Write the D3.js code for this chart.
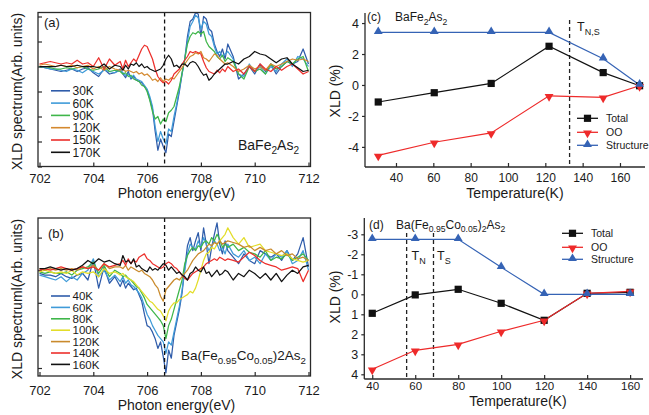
<!DOCTYPE html>
<html><head><meta charset="utf-8">
<script src="https://cdn.jsdelivr.net/npm/d3@7"></script>
<style>
body{margin:0;background:#fff}
svg{display:block}
text{font-family:"Liberation Sans",Arial,sans-serif;fill:#1a1a1a}
</style>
</head><body>
<svg id="chart" width="649" height="415"></svg>
<script>
// ---------------- DATA ----------------
const energy = [702.0,702.2,702.4,702.6,702.8,703.0,703.2,703.4,703.6,703.8,704.0,704.2,704.4,704.6,704.8,
705.0,705.1,705.2,705.3,705.4,705.5,705.6,705.7,705.8,705.9,
706.0,706.1,706.2,706.3,706.4,706.5,706.6,706.7,706.8,706.9,
707.0,707.1,707.2,707.3,707.4,707.5,707.6,707.7,707.8,707.9,
708.0,708.1,708.2,708.3,708.4,708.5,708.6,708.7,708.8,708.9,
709.0,709.2,709.4,709.6,709.8,710.0,710.2,710.4,710.6,710.8,711.0,711.2,711.4,711.6,711.8,712.0];

// panel (a) BaFe2As2
const labelsA = ["30K","60K","90K","120K","150K","170K"];
const a30 = [0.0,-0.05,-0.1,-0.15,-0.2,-0.15,-0.1,-0.2,-0.1,-0.05,-0.25,-0.4,-0.1,-0.3,-0.25,
-0.1,-0.3,-0.45,-0.2,-0.5,-0.4,-0.55,-0.6,-0.65,-0.8,
-0.95,-1.3,-1.7,-2.6,-3.35,-2.9,-3.2,-3.45,-2.7,-2.8,
-2.2,-1.6,-1.0,-0.3,0.3,1.2,1.8,1.9,2.15,2.1,
1.2,2.0,1.9,1.5,1.4,0.9,0.6,0.4,0.7,0.3,
0.9,
0.4,-0.5,-0.3,0.0,-0.3,0.1,-0.2,0.1,-0.3,0.0,0.2,0.1,0.2,0.7,0.1];
const a60 = [0.0,-0.05,-0.1,-0.1,-0.15,-0.2,-0.1,-0.15,-0.25,-0.1,-0.2,-0.3,-0.15,-0.2,-0.25,
-0.15,-0.25,-0.35,-0.3,-0.45,-0.35,-0.5,-0.55,-0.6,-0.75,
-0.9,-1.2,-1.6,-2.4,-3.0,-2.6,-2.9,-3.1,-2.5,-2.6,
-2.0,-1.5,-0.9,-0.3,0.3,1.0,1.6,1.8,2.05,1.95,
1.5,1.8,1.7,1.3,1.2,0.8,0.5,0.6,0.4,0.5,
0.6,
0.3,-0.3,-0.4,0.1,-0.2,0.0,-0.3,0.0,-0.2,0.1,0.3,0.0,0.4,0.3,0.0];
const a90 = [0.0,0.0,-0.05,-0.1,-0.1,-0.05,-0.1,-0.05,0.0,-0.1,-0.15,-0.1,0.0,-0.2,-0.15,
-0.2,-0.3,-0.25,-0.4,-0.35,-0.5,-0.55,-0.6,-0.75,-0.8,
-1.0,-1.35,-1.8,-2.1,-2.0,-2.3,-2.1,-2.2,-1.85,-1.75,
-1.6,-1.2,-0.8,-0.25,0.3,0.9,1.2,1.35,1.3,1.4,
1.3,1.4,1.0,0.8,0.7,0.6,0.4,0.3,0.45,0.2,
0.35,
0.2,-0.3,-0.5,0.0,-0.2,-0.1,-0.3,0.1,-0.1,0.0,0.2,0.1,0.3,0.4,-0.2];
const a120 = [0.05,0.1,0.05,0.0,0.05,0.0,0.05,-0.05,0.0,0.05,-0.1,0.0,-0.15,0.0,-0.1,
-0.15,-0.1,-0.2,-0.15,-0.2,-0.25,-0.2,-0.3,-0.25,-0.35,
-0.3,-0.4,-0.55,-0.5,-0.6,-0.45,-0.6,-0.5,-0.55,-0.45,
-0.5,-0.35,-0.2,-0.05,0.1,0.25,0.4,0.45,0.55,0.5,
0.6,0.35,0.3,0.2,0.35,0.5,0.45,0.3,0.2,0.1,
0.15,
0.0,-0.2,-0.1,0.05,-0.1,0.0,-0.15,0.1,0.0,0.1,0.2,0.3,0.25,0.3,0.2];
const a150 = [0.1,0.15,0.2,0.15,0.1,0.15,0.1,0.25,0.1,0.15,0.0,0.35,-0.1,0.3,0.05,
0.2,-0.1,0.25,0.0,0.15,0.3,0.2,0.45,0.7,0.85,
0.8,0.55,0.3,-0.1,-0.4,-0.55,-0.65,-0.6,-0.7,-0.55,
-0.3,-0.2,-0.1,0.1,0.25,0.4,0.6,0.55,0.6,0.55,
0.5,0.2,-0.05,-0.2,-0.25,-0.3,-0.15,-0.25,-0.1,-0.2,
0.0,
-0.2,-0.1,-0.3,0.0,-0.2,0.1,-0.1,-0.2,0.0,-0.15,0.0,0.1,-0.1,-0.3,-0.2];
const a170 = [0.0,0.0,0.0,0.0,0.05,0.0,0.0,0.05,0.0,0.0,0.0,-0.05,0.1,-0.1,0.05,
0.0,-0.15,0.05,-0.1,0.1,0.05,0.15,0.0,0.1,-0.05,
0.0,-0.1,-0.15,-0.2,-0.15,-0.1,0.05,0.3,0.45,0.3,
0.0,0.05,-0.05,0.1,0.1,0.0,0.15,0.2,0.15,0.0,
-0.2,-0.35,-0.3,-0.55,-0.45,-0.3,-0.2,-0.1,0.0,0.1,
0.1,
0.2,0.1,0.3,0.4,0.6,0.5,0.45,0.3,0.15,0.3,0.35,0.1,-0.05,-0.2,-0.15];

// panel (b) Ba(Fe0.95Co0.05)2As2
const labelsB = ["40K","60K","80K","100K","120K","140K","160K"];
const b40 = [-0.1,-0.15,-0.15,-0.2,-0.1,-0.2,-0.25,-0.15,-0.1,-0.3,0.3,-0.55,0.1,-0.4,-0.2,
-0.5,-0.3,-0.55,-0.4,-0.5,-0.6,-0.55,-0.75,-0.95,-1.35,
-1.7,-1.75,-1.9,-2.1,-2.4,-2.2,-2.65,-3.15,-2.45,-2.7,
-2.0,-1.6,-1.2,-0.7,0.05,0.75,1.0,0.6,0.9,1.15,
0.6,1.3,0.8,0.2,0.7,1.1,1.45,0.8,0.5,0.9,
0.6,
0.4,0.2,0.5,0.3,0.2,0.6,0.5,0.4,0.5,0.3,0.6,0.3,0.5,1.0,0.1];
const b60 = [-0.15,-0.2,-0.25,-0.3,-0.2,-0.35,-0.2,-0.3,-0.1,0.0,0.35,-0.2,0.0,-0.3,-0.15,
-0.35,-0.2,-0.4,-0.3,-0.45,-0.5,-0.6,-0.7,-0.85,-1.1,
-1.35,-1.5,-1.7,-1.85,-2.0,-2.1,-2.2,-2.55,-2.2,-2.3,
-1.9,-1.5,-1.1,-0.6,0.0,0.5,0.8,0.7,0.65,0.9,
0.7,1.0,0.8,0.6,0.75,0.9,0.8,0.6,0.7,0.5,
0.8,
0.5,0.4,0.6,0.3,0.4,0.2,0.5,0.3,0.5,0.4,0.6,0.2,0.3,0.6,0.0];
const b80 = [-0.05,-0.1,-0.05,-0.1,-0.1,-0.05,-0.15,0.0,0.05,0.1,0.25,-0.1,0.15,-0.2,0.0,
-0.1,-0.2,-0.15,-0.25,-0.3,-0.4,-0.5,-0.55,-0.7,-0.85,
-1.05,-1.15,-1.25,-1.35,-1.45,-1.55,-1.7,-2.1,-1.7,-1.5,
-1.2,-0.9,-0.6,-0.3,0.2,0.45,0.6,0.7,0.6,0.75,
0.7,0.85,0.9,0.8,1.0,0.9,1.1,0.95,0.7,0.8,
0.7,
0.8,0.6,0.7,0.55,0.5,0.4,0.6,0.3,0.4,0.35,0.5,0.3,0.4,0.5,0.3];
const b100 = [-0.05,0.0,-0.05,-0.1,-0.05,-0.1,0.0,-0.15,-0.05,-0.1,-0.05,-0.2,0.05,-0.1,-0.05,
-0.15,-0.1,-0.2,-0.25,-0.3,-0.35,-0.45,-0.55,-0.65,-0.75,
-0.85,-0.95,-1.0,-1.1,-1.2,-1.25,-1.4,-1.55,-1.25,-1.1,
-1.0,-1.0,-0.9,-0.85,-0.8,-0.75,-0.65,-0.7,-0.55,-0.3,
0.0,0.3,0.5,0.55,0.7,0.65,0.8,0.9,1.0,1.1,
1.3,
1.0,0.8,1.0,0.7,0.75,0.8,0.6,0.55,0.5,0.45,0.5,0.35,0.3,0.25,0.3];
const b120 = [0.05,0.0,0.05,0.0,0.05,0.0,0.05,0.0,0.1,0.05,0.15,0.0,0.2,0.05,0.1,
0.1,0.05,0.15,0.0,0.1,0.05,0.0,-0.05,0.0,-0.1,
-0.15,-0.2,-0.3,-0.45,-0.55,-0.8,-0.95,-0.6,-0.5,-0.4,
-0.3,-0.25,-0.3,-0.2,-0.1,0.0,0.15,0.3,0.4,0.5,
0.55,0.6,0.7,0.8,0.75,0.85,0.8,0.9,0.8,0.85,
0.9,
0.85,0.8,0.7,0.75,0.6,0.7,0.6,0.65,0.5,0.6,0.45,0.5,0.35,0.4,0.3];
const b140 = [0.0,0.05,0.0,0.05,0.1,0.05,0.0,0.05,0.1,0.05,0.1,0.0,0.2,0.1,0.15,
0.2,0.3,0.15,0.35,0.2,0.3,0.25,0.4,0.45,0.5,
0.35,0.3,0.2,0.15,0.1,0.05,0.1,0.2,0.25,0.2,
0.1,0.05,-0.05,-0.15,-0.25,-0.3,-0.2,-0.1,-0.05,0.0,
0.05,0.1,0.2,0.25,0.3,0.35,0.3,0.4,0.35,0.3,
0.35,
0.3,0.25,0.4,0.55,0.45,0.3,0.2,0.15,0.1,0.0,0.05,0.1,0.05,-0.35,0.0];
const b160 = [0.05,0.05,0.1,0.05,0.0,0.05,0.0,0.05,0.15,0.3,0.2,0.35,0.25,0.3,0.2,
0.15,0.45,0.25,0.3,0.2,0.35,0.1,0.15,0.05,0.0,
-0.05,0.1,0.0,0.05,0.0,0.1,0.2,0.15,0.0,0.1,
0.0,-0.1,-0.05,-0.15,-0.2,-0.3,-0.1,-0.05,0.1,0.0,
-0.05,0.1,-0.1,-0.05,-0.2,-0.1,0.0,-0.15,-0.1,0.0,
-0.05,
-0.3,-0.1,-0.2,0.0,-0.1,-0.25,-0.1,-0.3,-0.1,-0.35,-0.15,0.0,-0.1,0.1,0.15];

const energyTicks = [702,704,706,708,710,712];
const yTicksA = [-4,-3,-2,-1,0,1,2];
const yTicksB = [-3,-2,-1,0,1];
const markerEnergy = 706.65;

// panel (c) BaFe2As2 XLD vs T
const tempC = [30.5,60.5,91,122,151,170.5];
const totalC = [-1.1,-0.5,0.1,2.5,0.8,-0.05];
const ooC = [-4.55,-3.7,-3.1,-0.7,-0.8,-0.05];
const structC = [3.4,3.4,3.4,3.4,1.7,0.0];
const tNS_C = 133;
const tempTicksC = [40,60,80,100,120,140,160];
const yTicksC = [-4,-2,0,2,4];

// panel (d) Ba(Fe0.95Co0.05)2As2 XLD vs T
const tempD = [40,60,80,100,120,140,160];
const totalD = [0.95,0.03,-0.25,0.45,1.3,-0.05,-0.1];
const ooD = [3.75,2.8,2.5,1.85,1.3,-0.05,-0.15];
const structD = [-2.75,-2.75,-2.75,-1.35,0.0,0.0,0.0];
const tN_D = 56, tS_D = 68.5;
const tempTicksD = [40,60,80,100,120,140,160];
const yTicksD = [-3,-2,-1,0,1,2,3,4];

const seriesNames = ["Total","OO","Structure"];

// ---------------- DRAWING ----------------
const svg = d3.select("#chart");
const AX = "#2a2a2a";
const colsA = ["#2f5caa","#3f9bd8","#3fb64a","#d4892f","#ec2f2b","#111111"];
const colsB = ["#2f5caa","#3f9bd8","#3fb64a","#e3dd2a","#c98a2c","#ec2f2b","#111111"];
const cTotal = "#111111", cOO = "#ee2a2a", cStruct = "#3563b5";
const FF = "Liberation Sans, Arial, sans-serif";

function rich(sel, x, y, parts, size, anchor) {
  const t = sel.append("text").attr("x", x).attr("y", y)
    .attr("font-size", size).attr("text-anchor", anchor || "start");
  let shift = 0;
  parts.forEach(([s, sub]) => {
    const target = sub ? size * 0.32 : 0;
    t.append("tspan").attr("dy", target - shift)
      .attr("font-size", sub ? size * 0.72 : size).text(s);
    shift = target;
  });
  return t;
}

function spectraPanel(o) {
  const g = svg.append("g");
  const x = d3.scaleLinear().domain([702,712]).range([39.5,308.5]);
  const y = d3.scaleLinear().domain(o.yDom).range(o.yRange);
  const clipId = "clip" + o.id;
  svg.append("clipPath").attr("id", clipId).append("rect")
    .attr("x", o.fx0).attr("y", o.fy0).attr("width", o.fx1 - o.fx0).attr("height", o.fy1 - o.fy0);

  const xa = g.append("g").attr("transform", `translate(0,${o.fy1})`)
    .call(d3.axisBottom(x).tickValues(energyTicks).tickSize(-4).tickSizeOuter(0).tickFormat(d3.format("d")));
  xa.select(".domain").remove();
  xa.selectAll("line").attr("stroke", AX).attr("stroke-width", 1.2);
  xa.selectAll("text").attr("dy", null).attr("y", o.tickLabelDy).attr("font-size", 13)
    .attr("font-family", FF).attr("fill", "#1a1a1a");
  const ya = g.append("g").attr("transform", `translate(${o.fx0},0)`)
    .call(d3.axisLeft(y).tickValues(o.yTicks).tickSize(-4).tickSizeOuter(0).tickFormat(""));
  ya.select(".domain").remove();
  ya.selectAll("line").attr("stroke", AX).attr("stroke-width", 1.2);

  const line = d3.line().x((d, i) => x(energy[i])).y(d => y(d));
  const lg = g.append("g").attr("clip-path", `url(#${clipId})`);
  o.series.forEach((s, i) => {
    lg.append("path").attr("d", line(s)).attr("fill", "none")
      .attr("stroke", o.cols[i]).attr("stroke-width", 1.25).attr("stroke-linejoin", "round");
  });
  g.append("line").attr("x1", x(markerEnergy)).attr("x2", x(markerEnergy))
    .attr("y1", o.fy0).attr("y2", o.fy1).attr("stroke", "#111").attr("stroke-width", 1.3)
    .attr("stroke-dasharray", "4,3");
  g.append("rect").attr("x", o.fx0).attr("y", o.fy0).attr("width", o.fx1 - o.fx0)
    .attr("height", o.fy1 - o.fy0).attr("fill", "none").attr("stroke", AX).attr("stroke-width", 1.3);

  o.labels.forEach((lab, i) => {
    const ly = o.legY0 + i * o.legDy;
    g.append("line").attr("x1", 51).attr("x2", 70).attr("y1", ly).attr("y2", ly)
      .attr("stroke", o.cols[i]).attr("stroke-width", 1.6);
    g.append("text").attr("x", 72.5).attr("y", ly + o.legSize * 0.37).attr("font-size", o.legSize).text(lab);
  });
  g.append("text").attr("x", 176.5).attr("y", o.xTitleY).attr("text-anchor", "middle")
    .attr("font-size", 14).text("Photon energy(eV)");
  g.append("text").attr("transform", `translate(22,${(o.fy0 + o.fy1) / 2 + 2}) rotate(-90)`)
    .attr("text-anchor", "middle").attr("font-size", 14).text(o.yTitle);
  g.append("text").attr("x", o.tagX).attr("y", o.tagY).attr("font-size", 13).text(o.tag);
  rich(g, o.sampleX, o.sampleY, o.sample, o.sampleSize, "end");
}

spectraPanel({
  id: "A", yDom: [-4, 2], yRange: [166.5, 16.5], yTicks: yTicksA,
  fx0: 38, fx1: 310.5, fy0: 12.5, fy1: 166.5, tickLabelDy: 16.5,
  series: [a30, a60, a90, a120, a150, a170], cols: colsA, labels: labelsA,
  legY0: 90.8, legDy: 12.3, legSize: 12,
  xTitleY: 198, yTitle: "XLD spectrum(Arb. units)",
  tag: "(a)", tagX: 44, tagY: 27,
  sample: [["BaFe",0],["2",1],["As",0],["2",1]], sampleX: 299, sampleY: 150, sampleSize: 14
});
spectraPanel({
  id: "B", yDom: [-3, 1], yRange: [368, 237.6], yTicks: yTicksB,
  fx0: 38, fx1: 310.5, fy0: 218, fy1: 376, tickLabelDy: 19,
  series: [b40, b60, b80, b100, b120, b140, b160], cols: colsB, labels: labelsB,
  legY0: 296, legDy: 11.4, legSize: 11.5,
  xTitleY: 410, yTitle: "XLD spectruml(Arb. units)",
  tag: "(b)", tagX: 48, tagY: 238,
  sample: [["Ba(Fe",0],["0.95",1],["Co",0],["0.05",1],[")2As",0],["2",1]], sampleX: 306, sampleY: 360, sampleSize: 13.5
});

function marker(g, type, x, y, color) {
  if (type === "sq") {
    g.append("rect").attr("x", x - 3.6).attr("y", y - 3.6).attr("width", 7.2).attr("height", 7.2).attr("fill", color);
  } else {
    const sym = d3.symbol().type(d3.symbolTriangle).size(34);
    g.append("path").attr("d", sym()).attr("fill", color)
      .attr("transform", `translate(${x},${type === "down" ? y + 0.8 : y - 0.8})` + (type === "down" ? " rotate(180)" : ""));
  }
}

function tempPanel(o) {
  const g = svg.append("g");
  const x = d3.scaleLinear().domain(o.xDom).range([o.ax0, o.ax1]);
  const y = d3.scaleLinear().domain(o.yDom).range(o.yRange);
  const xa = g.append("g").attr("transform", `translate(0,${o.axBottom})`)
    .call(d3.axisBottom(x).tickValues(o.xTicks).tickSize(-4).tickSizeOuter(0).tickFormat(d => String(d)));
  xa.select(".domain").remove();
  xa.selectAll("line").attr("stroke", AX).attr("stroke-width", 1.2);
  xa.selectAll("text").attr("dy", null).attr("y", o.xLabDy).attr("font-size", o.xLabSize)
    .attr("font-family", FF).attr("fill", "#1a1a1a");
  const ya = g.append("g").attr("transform", `translate(${o.ax0},0)`)
    .call(d3.axisLeft(y).tickValues(o.yTicks).tickSize(3).tickPadding(3).tickSizeOuter(0).tickFormat(d => String(d)));
  ya.select(".domain").remove();
  ya.selectAll("line").attr("stroke", AX).attr("stroke-width", 1.2);
  ya.selectAll("text").attr("dy", "0.36em").attr("font-size", 12.5)
    .attr("font-family", FF).attr("fill", "#1a1a1a");
  g.append("line").attr("x1", o.ax0).attr("x2", o.ax0).attr("y1", o.axTop).attr("y2", o.axBottom)
    .attr("stroke", AX).attr("stroke-width", 1.3);
  g.append("line").attr("x1", o.ax0).attr("x2", o.ax1).attr("y1", o.axBottom).attr("y2", o.axBottom)
    .attr("stroke", AX).attr("stroke-width", 1.3);

  o.dashes.forEach(dv => {
    g.append("line").attr("x1", x(dv.t)).attr("x2", x(dv.t)).attr("y1", dv.y0).attr("y2", o.axBottom)
      .attr("stroke", "#222").attr("stroke-width", 1.3).attr("stroke-dasharray", "4,3");
  });

  const line = d3.line().x((d, i) => x(o.temps[i])).y(d => y(d));
  const sets = [
    { v: o.total, c: cTotal, m: "sq" },
    { v: o.oo, c: cOO, m: "down" },
    { v: o.struct, c: cStruct, m: "up" }
  ];
  sets.forEach(s => {
    g.append("path").attr("d", line(s.v)).attr("fill", "none").attr("stroke", s.c).attr("stroke-width", 1.2);
  });
  sets.forEach(s => {
    s.v.forEach((v, i) => marker(g, s.m, x(o.temps[i]), y(v), s.c));
  });
  seriesNames.forEach((nm, i) => {
    const ly = o.legY[i];
    const s = sets[i];
    g.append("line").attr("x1", o.legX0).attr("x2", o.legX0 + 21).attr("y1", ly).attr("y2", ly)
      .attr("stroke", s.c).attr("stroke-width", 1.3);
    marker(g, s.m, o.legX0 + 10.5, ly, s.c);
    g.append("text").attr("x", o.legX0 + 29).attr("y", ly + 3.8).attr("font-size", 10.5).text(nm);
  });
  g.append("text").attr("x", o.xTitleX).attr("y", o.xTitleY).attr("text-anchor", "middle")
    .attr("font-size", 14).text("Temperature(K)");
  g.append("text").attr("transform", `translate(340,${o.yTitleY}) rotate(-90)`)
    .attr("text-anchor", "middle").attr("font-size", 14).text("XLD (%)");
  o.texts.forEach(t => rich(g, t.x, t.y, t.parts, t.size, "start"));
}

tempPanel({
  xDom: [23.4, 173.4], ax0: 365, ax1: 645,
  yDom: [-5.3, 4.65], yRange: [167, 13], axTop: 13, axBottom: 167,
  xTicks: tempTicksC, yTicks: yTicksC, xLabDy: 14.5, xLabSize: 12, temps: tempC,
  total: totalC, oo: ooC, struct: structC,
  dashes: [{ t: tNS_C, y0: 20 }],
  legX0: 577, legY: [118.3, 132.3, 145.3],
  xTitleX: 515, xTitleY: 198, yTitleY: 91,
  texts: [
    { x: 367, y: 21, size: 12, parts: [["(c)",0]] },
    { x: 395, y: 21, size: 12, parts: [["BaFe",0],["2",1],["As",0],["2",1]] },
    { x: 577, y: 31, size: 12.5, parts: [["T",0],["N,S",1]] }
  ]
});

tempPanel({
  xDom: [36.3, 166.0], ax0: 364.3, ax1: 643,
  yDom: [-3.815, 4.235], yRange: [218, 379], axTop: 218, axBottom: 379,
  xTicks: tempTicksD, yTicks: yTicksD, xLabDy: 11, xLabSize: 11.5, temps: tempD,
  total: totalD, oo: ooD, struct: structD,
  dashes: [{ t: tN_D, y0: 233 }, { t: tS_D, y0: 233 }],
  legX0: 562, legY: [233.3, 247.3, 259.3],
  xTitleX: 518, xTitleY: 405.5, yTitleY: 297,
  texts: [
    { x: 369, y: 228.5, size: 12, parts: [["(d)",0]] },
    { x: 396, y: 228.5, size: 12, parts: [["Ba(Fe",0],["0.95",1],["Co",0],["0.05",1],[")",0],["2",1],["As",0],["2",1]] },
    { x: 411.5, y: 260, size: 12.5, parts: [["T",0],["N",1]] },
    { x: 437, y: 260, size: 12.5, parts: [["T",0],["S",1]] }
  ]
});
</script>
</body></html>
